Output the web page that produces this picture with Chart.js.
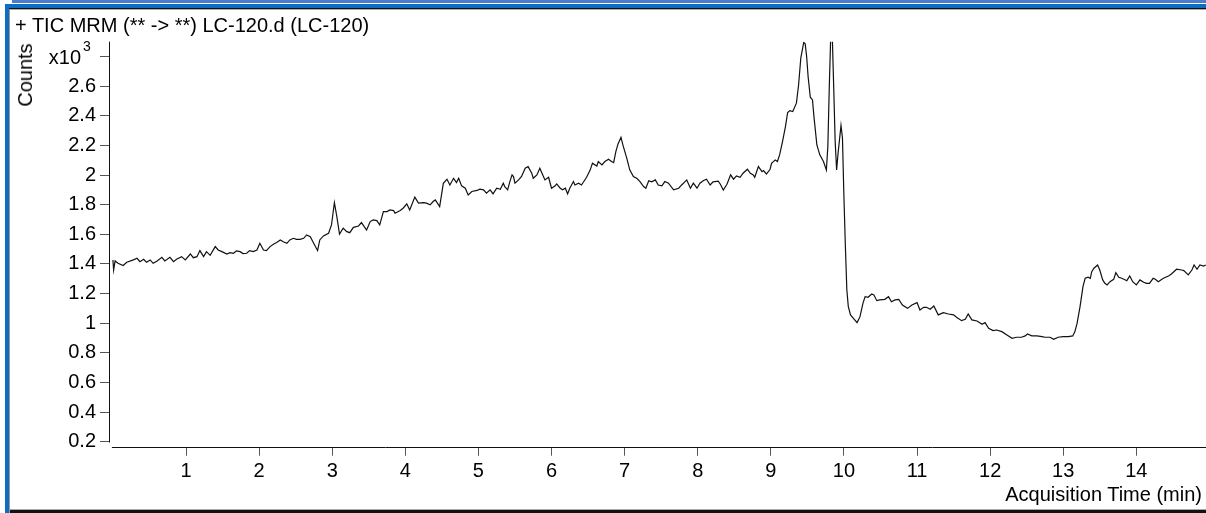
<!DOCTYPE html>
<html>
<head>
<meta charset="utf-8">
<script src="https://cdn.jsdelivr.net/npm/chart.js@4.4.1/dist/chart.umd.min.js"></script>
<style>
  html, body { margin: 0; padding: 0; background: #fff; }
  body { width: 1206px; height: 513px; position: relative; overflow: hidden; font-family: "Liberation Sans", Arial, sans-serif; }
  #chart { position: absolute; left: 0; top: 0; }
  .bar { position: absolute; }
  .txt { position: absolute; font-size: 20px; line-height: 20px; color: #000; white-space: nowrap; }
</style>
</head>
<body>
<canvas id="chart" width="1206" height="513"></canvas>

<!-- window frame -->
<div class="bar" style="left:12px;top:0;width:1194px;height:3px;background:#4c7dcc"></div>
<div class="bar" style="left:5px;top:4px;width:1201px;height:4px;background:#0b6dc4"></div>
<div class="bar" style="left:9px;top:8px;width:1197px;height:1px;background:#111"></div>
<div class="bar" style="left:10px;top:9px;width:1196px;height:1px;background:#aaa"></div>
<div class="bar" style="left:5px;top:4px;width:4px;height:509px;background:#0b6dc4"></div>
<div class="bar" style="left:9px;top:9px;width:1px;height:504px;background:#999"></div>
<div class="bar" style="left:10px;top:509px;width:1196px;height:1px;background:#aaa"></div>
<div class="bar" style="left:10px;top:510px;width:1196px;height:3px;background:#111"></div>

<div class="txt" style="left:15px;top:15px">+ TIC MRM (** -&gt; **) LC-120.d (LC-120)</div>
<div class="txt" style="left:32px;top:75px;transform-origin:0 0;transform:rotate(-90deg) translate(-50%,-17px)">Counts</div>
<div class="txt" style="right:4px;top:484px">Acquisition Time (min)</div>

<script>
// retention time (min)
const times = [
  0.00, 0.01, 0.03, 0.07, 0.14, 0.19, 0.28, 0.33, 0.37, 0.42, 0.46, 0.51, 0.55, 0.60, 0.67, 0.71,
  0.78, 0.83, 0.87, 0.94, 0.99, 1.06, 1.10, 1.15, 1.19, 1.24, 1.28, 1.33, 1.40, 1.44, 1.49, 1.56,
  1.60, 1.65, 1.69, 1.74, 1.78, 1.83, 1.87, 1.92, 1.97, 2.01, 2.06, 2.10, 2.15, 2.20, 2.24, 2.29,
  2.33, 2.38, 2.42, 2.47, 2.51,
  2.56, 2.61, 2.65, 2.70, 2.77, 2.80, 2.83, 2.88, 2.95, 2.99, 3.03, 3.06, 3.10, 3.15, 3.20, 3.24,
  3.29, 3.36, 3.40, 3.47, 3.52, 3.56, 3.61, 3.65, 3.70, 3.75, 3.79, 3.84, 3.86, 3.93, 3.97, 4.02,
  4.06, 4.13, 4.18, 4.25, 4.29, 4.34, 4.38, 4.41, 4.47, 4.52, 4.57, 4.61, 4.66, 4.70, 4.73, 4.77,
  4.82, 4.86, 4.91, 4.98, 5.02, 5.07, 5.11,
  5.16, 5.20, 5.25, 5.30, 5.34, 5.36, 5.40, 5.43, 5.46, 5.48, 5.50, 5.55, 5.59, 5.64, 5.68, 5.73,
  5.75, 5.80, 5.84, 5.87, 5.91, 5.96, 6.00, 6.05, 6.07, 6.12, 6.15, 6.19, 6.22, 6.25, 6.30, 6.32,
  6.37, 6.41, 6.48, 6.53, 6.56, 6.62, 6.64, 6.69, 6.73, 6.78, 6.82, 6.85, 6.88, 6.91, 6.95, 6.98,
  7.03, 7.07, 7.12, 7.17, 7.21, 7.26, 7.29, 7.33, 7.37, 7.42, 7.46, 7.51, 7.55, 7.60, 7.67, 7.74,
  7.78, 7.85, 7.90, 7.94, 7.99, 8.03,
  8.08, 8.12, 8.17, 8.21, 8.28, 8.31, 8.35, 8.40, 8.45, 8.49, 8.53, 8.58, 8.62, 8.68, 8.72, 8.76,
  8.78, 8.83, 8.88, 8.90, 8.94, 8.99, 9.01, 9.06, 9.09, 9.12, 9.16, 9.20, 9.23, 9.26, 9.30, 9.35,
  9.38, 9.41, 9.45, 9.47, 9.49, 9.51, 9.54, 9.57, 9.59, 9.63, 9.67, 9.72, 9.76, 9.78, 9.80, 9.82,
  9.84, 9.86, 9.88, 9.90, 9.92, 9.96, 9.98,
  10.00, 10.02, 10.04, 10.06, 10.09, 10.13, 10.18, 10.22, 10.26, 10.29, 10.33, 10.38, 10.41, 10.45,
  10.49, 10.56, 10.61, 10.65, 10.70, 10.75, 10.80, 10.87, 10.93, 11.00, 11.04, 11.09, 11.13, 11.18,
  11.23, 11.29, 11.36, 11.43, 11.50, 11.54, 11.61, 11.66, 11.70, 11.75, 11.82, 11.89, 11.93, 11.98,
  12.04, 12.09, 12.16, 12.23, 12.30, 12.36, 12.43, 12.48, 12.51, 12.57, 12.64, 12.71, 12.75, 12.82,
  12.87, 12.93, 13.00, 13.07, 13.13, 13.16, 13.19, 13.23, 13.27, 13.30, 13.34, 13.37, 13.39, 13.42,
  13.47, 13.50, 13.54, 13.57, 13.60, 13.64, 13.69, 13.72, 13.76, 13.80, 13.85, 13.87, 13.91, 13.95,
  14.00, 14.05, 14.10, 14.14, 14.18, 14.23, 14.26, 14.30, 14.37, 14.44, 14.48, 14.55, 14.62, 14.65,
  14.71, 14.76, 14.79, 14.83, 14.87, 14.92, 14.95
];

// TIC counts, x10^3
const counts = [
  1.427, 1.359, 1.420, 1.404, 1.389, 1.411, 1.427, 1.438, 1.415, 1.431, 1.411, 1.427, 1.404, 1.418, 1.445, 1.420,
  1.445, 1.415, 1.431, 1.449, 1.427, 1.467, 1.442, 1.449, 1.490, 1.449, 1.483, 1.458, 1.517, 1.494, 1.483, 1.467,
  1.476, 1.472, 1.488, 1.483, 1.470, 1.472, 1.490, 1.483, 1.494, 1.539, 1.494, 1.490, 1.517, 1.535, 1.544, 1.562,
  1.550, 1.539, 1.562, 1.573, 1.566,
  1.566, 1.573, 1.596, 1.584, 1.517, 1.490, 1.562, 1.589, 1.607, 1.663, 1.814, 1.730, 1.602, 1.641, 1.618, 1.611,
  1.647, 1.656, 1.679, 1.629, 1.686, 1.697, 1.692, 1.663, 1.753, 1.753, 1.764, 1.760, 1.742, 1.760, 1.776, 1.806,
  1.764, 1.851, 1.810, 1.814, 1.810, 1.799, 1.821, 1.832, 1.787, 1.944, 1.971, 1.933, 1.978, 1.949, 1.978, 1.927,
  1.911, 1.866, 1.889, 1.896, 1.905, 1.900, 1.877,
  1.900, 1.873, 1.911, 1.904, 1.945, 1.922, 1.900, 1.956, 2.001, 1.990, 1.945, 1.967, 1.990, 2.046, 2.057, 2.012,
  1.978, 2.001, 2.046, 2.012, 1.967, 1.985, 1.911, 1.927, 1.940, 1.911, 1.900, 1.911, 1.873, 1.911, 1.956, 1.933,
  1.945, 1.933, 1.985, 2.035, 2.080, 2.061, 2.091, 2.068, 2.091, 2.106, 2.091, 2.084, 2.158, 2.210, 2.255, 2.197,
  2.113, 2.035, 1.990, 1.976, 1.956, 1.922, 1.911, 1.962, 1.954, 1.967, 1.933, 1.927, 1.956, 1.945, 1.900, 1.911,
  1.933, 1.967, 1.911, 1.945, 1.911, 1.945,
  1.963, 1.972, 1.933, 1.954, 1.959, 1.938, 1.899, 1.938, 2.001, 1.972, 1.994, 1.985, 2.012, 2.039, 2.012, 2.001,
  1.985, 2.057, 2.023, 2.030, 2.007, 2.039, 2.079, 2.102, 2.091, 2.136, 2.226, 2.327, 2.422, 2.435, 2.429, 2.485,
  2.609, 2.789, 2.895, 2.886, 2.800, 2.665, 2.525, 2.507, 2.394, 2.203, 2.136, 2.091, 2.034, 2.192, 2.597, 2.950,
  2.950, 2.597, 2.230, 2.034, 2.147, 2.335, 2.250,
  1.854, 1.517, 1.224, 1.112, 1.056, 1.033, 1.004, 1.044, 1.134, 1.179, 1.175, 1.197, 1.191, 1.152,
  1.157, 1.161, 1.179, 1.145, 1.157, 1.161, 1.123, 1.100, 1.123, 1.139, 1.089, 1.107, 1.107, 1.094,
  1.116, 1.056, 1.071, 1.062, 1.056, 1.040, 1.017, 1.026, 1.062, 1.022, 1.015, 0.993, 1.004, 0.966,
  0.950, 0.954, 0.943, 0.920, 0.898, 0.905, 0.905, 0.914, 0.927, 0.914, 0.914, 0.909, 0.905, 0.905,
  0.891, 0.905, 0.909, 0.909, 0.914, 0.943, 1.000, 1.112, 1.247, 1.303, 1.310, 1.303, 1.348, 1.371,
  1.393, 1.359, 1.292, 1.269, 1.258, 1.280, 1.296, 1.341, 1.310, 1.303, 1.292, 1.287, 1.319, 1.280,
  1.258, 1.292, 1.276, 1.269, 1.269, 1.303, 1.296, 1.280, 1.303, 1.319, 1.332, 1.364, 1.359, 1.355,
  1.326, 1.359, 1.393, 1.364, 1.393, 1.386, 1.393
];

const xTickValues = [1, 2, 3, 4, 5, 6, 7, 8, 9, 10, 11, 12, 13, 14];
const yTickValues = [0.2, 0.4, 0.6, 0.8, 1.0, 1.2, 1.4, 1.6, 1.8, 2.0, 2.2, 2.4, 2.6, 2.8];
const yTickLabels = ['0.2', '0.4', '0.6', '0.8', '1', '1.2', '1.4', '1.6', '1.8', '2', '2.2', '2.4', '2.6', ''];

const FONT = "'Liberation Sans', Arial, sans-serif";

// draws the detached axis lines and the x10^3 exponent label
const axesPlugin = {
  id: 'axes',
  afterDraw(chart) {
    const ctx = chart.ctx;
    const xs = chart.scales.x, ys = chart.scales.y;
    const area = chart.chartArea;
    ctx.save();
    ctx.strokeStyle = '#111';
    ctx.lineWidth = 1;
    ctx.beginPath();
    ctx.moveTo(area.left + 0.5, ys.getPixelForValue(2.9));
    ctx.lineTo(area.left + 0.5, Math.round(ys.getPixelForValue(0.2)) + 0.5);
    ctx.moveTo(xs.getPixelForValue(0) - 1, Math.round(area.bottom) + 0.5);
    ctx.lineTo(area.right, Math.round(area.bottom) + 0.5);
    ctx.stroke();

    const y28 = ys.getPixelForValue(2.8);
    ctx.fillStyle = '#000';
    ctx.textAlign = 'right';
    ctx.textBaseline = 'alphabetic';
    ctx.font = '20px ' + FONT;
    ctx.fillText('x10', 81, y28 + 7);
    ctx.textAlign = 'left';
    ctx.font = '14px ' + FONT;
    ctx.fillText('3', 83, y28 - 6);
    ctx.restore();
  }
};

new Chart(document.getElementById('chart').getContext('2d'), {
  type: 'line',
  data: {
    datasets: [{
      data: times.map((t, i) => ({ x: t, y: counts[i] })),
      borderColor: '#111',
      borderWidth: 1.2,
      pointRadius: 0,
      tension: 0,
      fill: false
    }]
  },
  options: {
    responsive: false,
    animation: false,
    devicePixelRatio: 1,
    layout: { padding: { top: 41.7, right: 0, left: 0, bottom: 0 } },
    plugins: { legend: { display: false }, tooltip: { enabled: false }, title: { display: false } },
    scales: {
      x: {
        type: 'linear',
        min: -0.0534,
        max: 14.953,
        afterBuildTicks: s => { s.ticks = xTickValues.map(v => ({ value: v })); },
        afterFit: s => { s.height = 66.3; },
        border: { display: false },
        grid: { drawOnChartArea: false, drawTicks: true, tickLength: 9, color: '#555' },
        ticks: {
          autoSkip: false, maxRotation: 0, padding: 4, color: '#000',
          font: { family: FONT, size: 20 },
          callback: v => String(v)
        }
      },
      y: {
        min: 0.16625,
        max: 2.9,
        afterBuildTicks: s => { s.ticks = yTickValues.map(v => ({ value: v })); },
        afterFit: s => { s.width = 109; },
        border: { display: false },
        grid: { drawOnChartArea: false, drawTicks: true, tickLength: 9, color: '#555' },
        ticks: {
          autoSkip: false, padding: 4, color: '#000',
          font: { family: FONT, size: 20 },
          callback: (v, i) => yTickLabels[i]
        }
      }
    }
  },
  plugins: [axesPlugin]
});
</script>
</body>
</html>
